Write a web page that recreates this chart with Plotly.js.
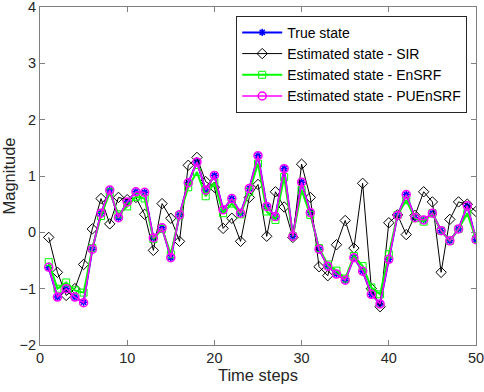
<!DOCTYPE html>
<html>
<head>
<meta charset="utf-8">
<script src="https://cdn.plot.ly/plotly-3.0.1.min.js"></script>
<style>
  html, body { margin: 0; padding: 0; background: #fff; }
  #chart { width: 484px; height: 392px; }
</style>
</head>
<body>
<div id="chart"></div>
<script>
let steps = [];
for (let i = 1; i <= 50; i++) {
    steps.push(i);
}

let trueState = [-0.63, -1.15, -1.00, -1.15, -1.24, -0.30, 0.34, 0.75, 0.26, 0.54,
    0.72, 0.71, -0.10, 0.08, -0.45, 0.31, 0.88, 1.25, 0.75, 1.01,
    0.40, 0.60, 0.34, 0.78, 1.36, 0.46, 0.28, 1.13, -0.07, 0.89,
    0.35, -0.30, -0.60, -0.74, -0.85, -0.45, -0.69, -1.10, -1.27, -0.48,
    0.30, 0.67, 0.26, 0.22, 0.34, 0.03, -0.15, 0.06, 0.47, -0.13];

let sirState = [-0.09, -0.71, -1.12, -1.00, -0.57, 0.06, 0.60, 0.15, 0.62, 0.58,
    0.62, 0.32, -0.32, 0.51, 0.25, -0.16, 1.19, 1.33, 0.90, 0.80,
    0.07, 0.25, -0.16, 0.62, 0.85, -0.07, 0.72, 0.45, -0.09, 1.21,
    0.62, -0.61, -0.77, -0.22, 0.21, -0.28, 0.87, -1.00, -1.32, 0.17,
    0.31, -0.04, 0.30, 0.72, 0.54, -0.71, 0.23, 0.54, 0.50, 0.37];

let ensrfState = [-0.53, -1.00, -0.89, -1.03, -1.07, -0.28, 0.29, 0.71, 0.32, 0.46,
    0.63, 0.60, -0.12, 0.06, -0.39, 0.30, 0.80, 1.07, 0.64, 0.88,
    0.34, 0.51, 0.32, 0.72, 1.22, 0.37, 0.22, 0.98, -0.07, 0.75,
    0.31, -0.28, -0.57, -0.68, -0.82, -0.42, -0.60, -0.98, -1.10, -0.39,
    0.31, 0.57, 0.25, 0.19, 0.34, 0.03, -0.15, 0.06, 0.34, -0.12];

let pueState = [-0.62, -1.15, -1.00, -1.15, -1.25, -0.30, 0.34, 0.75, 0.26, 0.54,
    0.72, 0.71, -0.10, 0.08, -0.45, 0.31, 0.88, 1.25, 0.75, 1.01,
    0.40, 0.60, 0.34, 0.78, 1.36, 0.46, 0.28, 1.13, -0.07, 0.89,
    0.35, -0.30, -0.60, -0.74, -0.85, -0.45, -0.69, -1.10, -1.27, -0.48,
    0.30, 0.67, 0.26, 0.22, 0.34, 0.03, -0.15, 0.06, 0.47, -0.13];

let data = [
    {
        x: steps, y: trueState, name: 'True state',
        mode: 'lines+markers', type: 'scatter',
        line: { color: '#0000ff', width: 2 },
        marker: { symbol: 'asterisk-open', size: 6, color: '#0000ff', line: { color: '#0000ff', width: 1.5 } }
    },
    {
        x: steps, y: sirState, name: 'Estimated state - SIR',
        mode: 'lines+markers', type: 'scatter',
        line: { color: '#000000', width: 1 },
        marker: { symbol: 'diamond-open', size: 8, color: '#000000', line: { color: '#000000', width: 1 } }
    },
    {
        x: steps, y: ensrfState, name: 'Estimated state - EnSRF',
        mode: 'lines+markers', type: 'scatter',
        line: { color: '#00ff00', width: 2 },
        marker: { symbol: 'square-open', size: 7, color: '#00ff00', line: { color: '#00ff00', width: 1 } }
    },
    {
        x: steps, y: pueState, name: 'Estimated state - PUEnSRF',
        mode: 'lines+markers', type: 'scatter',
        line: { color: '#ff00ff', width: 1.5 },
        marker: { symbol: 'circle-open', size: 8, color: '#ff00ff', line: { color: '#ff00ff', width: 1.5 } }
    }
];

let axisStyle = {
    showgrid: false,
    zeroline: false,
    showline: true,
    linecolor: '#808080',
    linewidth: 1,
    mirror: 'allticks',
    ticks: 'inside',
    ticklen: 5,
    tickcolor: '#808080',
    ticklabeloverflow: 'allow',
    tickfont: { family: 'Liberation Sans, Arial, sans-serif', size: 14.5, color: '#262626' },
    automargin: false
};

let layout = {
    width: 484,
    height: 392,
    margin: { l: 40, r: 8, t: 7, b: 47 },
    paper_bgcolor: '#ffffff',
    plot_bgcolor: '#ffffff',
    font: { family: 'Liberation Sans, Arial, sans-serif', color: '#262626' },
    showlegend: true,
    xaxis: Object.assign({}, axisStyle, {
        range: [0, 50],
        tickvals: [0, 10, 20, 30, 40, 50],
        title: { text: 'Time steps', font: { size: 16.5, color: '#262626' }, standoff: 4 }
    }),
    yaxis: Object.assign({}, axisStyle, {
        range: [-2, 4],
        tickvals: [-2, -1, 0, 1, 2, 3, 4],
        title: { text: 'Magnitude', font: { size: 16.5, color: '#262626' }, standoff: 8 }
    }),
    legend: {
        x: 0.45, y: 0.974, xanchor: 'left', yanchor: 'top',
        bgcolor: '#ffffff',
        bordercolor: '#262626',
        borderwidth: 1,
        itemwidth: 40,
        tracegroupgap: 0,
        font: { family: 'Liberation Sans, Arial, sans-serif', size: 14, color: '#000000' }
    }
};

Plotly.newPlot('chart', data, layout, { displayModeBar: false, staticPlot: true });
</script>
</body>
</html>
